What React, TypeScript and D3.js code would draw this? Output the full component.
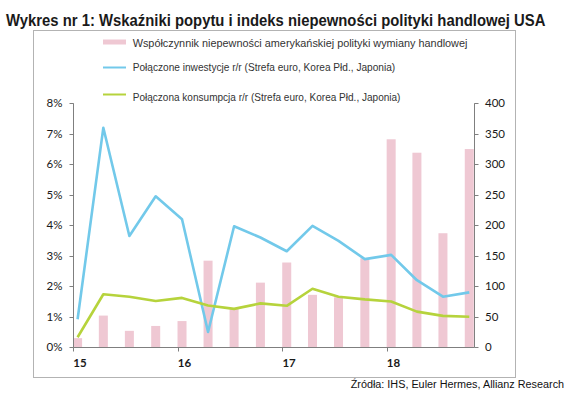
import React, { useLayoutEffect, useRef, useState } from "react";
import * as d3 from "d3";

// quarters 2015Q1 .. 2018Q4
const quarters = [
  "15Q1", "15Q2", "15Q3", "15Q4",
  "16Q1", "16Q2", "16Q3", "16Q4",
  "17Q1", "17Q2", "17Q3", "17Q4",
  "18Q1", "18Q2", "18Q3", "18Q4",
];

// US trade policy uncertainty index (right axis)
const uncertainty = [15, 52, 27, 35, 43, 142, 63, 106, 139, 86, 82, 146, 341, 319, 187, 325];
// combined investment y/y, % (left axis)
const investment = [0.92, 7.2, 3.65, 4.95, 4.2, 0.5, 3.97, 3.6, 3.15, 3.98, 3.49, 2.89, 3.03, 2.2, 1.66, 1.8];
// combined consumption y/y, %
const consumption = [0.33, 1.74, 1.66, 1.52, 1.62, 1.37, 1.26, 1.44, 1.36, 1.92, 1.66, 1.57, 1.5, 1.17, 1.03, 1.0];

const yearTicks = ["15", "16", "17", "18"];
const leftTicks = [0, 0.01, 0.02, 0.03, 0.04, 0.05, 0.06, 0.07, 0.08];
const rightTicks = [0, 50, 100, 150, 200, 250, 300, 350, 400];

const legendLabels = [
  "Współczynnik niepewności amerykańskiej polityki wymiany handlowej",
  "Połączone inwestycje r/r (Strefa euro, Korea Płd., Japonia)",
  "Połączona konsumpcja r/r (Strefa euro, Korea Płd., Japonia)",
];

const PINK = "#efc8d3";
const BLUE = "#72c9ea";
const GREEN = "#b6d33c";

const qDate = (q: string) => new Date(2000 + +q.slice(0, 2), (+q.slice(3) - 1) * 3, 16);

// text squeezed horizontally to a given width (the original uses a narrower face)
function FitText(props: {
  x: number;
  y: number;
  width: number;
  size: number;
  weight?: string;
  fill: string;
  children: string;
}) {
  const ref = useRef<SVGTextElement>(null);
  const [sx, setSx] = useState(1);
  useLayoutEffect(() => {
    if (!ref.current) return;
    const w = ref.current.getComputedTextLength();
    if (w > 0) setSx(props.width / w);
  }, [props.width, props.children]);
  return (
    <text
      ref={ref}
      transform={`translate(${props.x},${props.y}) scale(${sx},1)`}
      fontFamily="Arial, 'Liberation Sans', sans-serif"
      fontSize={props.size}
      fontWeight={props.weight}
      fill={props.fill}
    >
      {props.children}
    </text>
  );
}

export default function App() {
  const W = 570;
  const H = 395;
  const plotTop = 103.3;
  const plotBottom = 347.3;
  const axisRight = 474;

  const x = d3
    .scaleTime()
    .domain([new Date(2015, 0, 1), new Date(2019, 0, 1)])
    .range([73.3, 491.3]);
  const yL = d3.scaleLinear().domain([0, 0.08]).range([plotBottom, plotTop]);
  const yR = d3.scaleLinear().domain([0, 400]).range([plotBottom, plotTop]);

  const dates = quarters.map(qDate);
  const lineL = d3
    .line<number>()
    .x((_, i) => x(dates[i]))
    .y((d) => yL(d / 100));

  const x0 = Math.round(x(new Date(2015, 0, 1))) + 0.5;
  const xr = Math.round(axisRight) + 0.5;
  const yb = Math.round(plotBottom) + 0.5;
  const barW = 9;
  const axisColor = "#7f7f7f";

  return (
    <div style={{ position: "fixed", left: 0, top: 0 }}>
      <svg width={W} height={H} style={{ display: "block", background: "#fff" }}>
        <FitText x={6} y={26} width={540} size={16.5} weight="bold" fill="#1a1a1a">
          Wykres nr 1: Wskaźniki popytu i indeks niepewności polityki handlowej USA
        </FitText>

        <rect x={33.5} y={30.5} width={482} height={347} fill="none" stroke="#b3b3b3" />

        {/* legend */}
        <rect x={103} y={39.5} width={23} height={5} fill={PINK} />
        <line x1={103} x2={126} y1={67.5} y2={67.5} stroke={BLUE} strokeWidth={2} />
        <line x1={103} x2={126} y1={94.5} y2={94.5} stroke={GREEN} strokeWidth={2} />
        <FitText x={132.7} y={47} width={335} size={10.5} fill="#333">
          {legendLabels[0]}
        </FitText>
        <FitText x={132.7} y={70.5} width={263} size={10.5} fill="#333">
          {legendLabels[1]}
        </FitText>
        <FitText x={132.7} y={100.5} width={268} size={10.5} fill="#333">
          {legendLabels[2]}
        </FitText>

        {/* bars */}
        {uncertainty.map((v, i) => (
          <rect
            key={i}
            x={x(dates[i]) - barW / 2}
            y={yR(v)}
            width={barW}
            height={yR(0) - yR(v)}
            fill={PINK}
          />
        ))}

        {/* axes */}
        <g stroke={axisColor} strokeWidth={1}>
          <line x1={x0} x2={x0} y1={plotTop} y2={yb} />
          <line x1={xr} x2={xr} y1={plotTop} y2={yb} />
          <line x1={x0} x2={xr} y1={yb} y2={yb} />
          {leftTicks.map((t) => (
            <line key={t} x1={x0 - 4} x2={x0} y1={Math.round(yL(t)) + 0.5} y2={Math.round(yL(t)) + 0.5} />
          ))}
          {rightTicks.map((t) => (
            <line key={t} x1={xr} x2={xr + 4} y1={Math.round(yR(t)) + 0.5} y2={Math.round(yR(t)) + 0.5} />
          ))}
          {yearTicks.map((t) => {
            const xx = Math.round(x(new Date(2000 + +t, 0, 1))) + 0.5;
            return <line key={t} x1={xx} x2={xx} y1={yb} y2={yb + 4} />;
          })}
        </g>

        <g fontFamily="Lato, 'Open Sans', sans-serif" fontSize={11.5} fill="#1a1a1a">
          {leftTicks.map((t) => (
            <text key={t} x={62.5} y={yL(t)} dy="0.35em" textAnchor="end">
              {d3.format(".0%")(t)}
            </text>
          ))}
          {rightTicks.map((t) => (
            <text key={t} x={485} y={yR(t)} dy="0.35em">
              {t}
            </text>
          ))}
          {yearTicks.map((t) => (
            <text key={t} x={x(new Date(2000 + +t, 0, 1))} y={367.3} fontWeight="bold">
              {t}
            </text>
          ))}
        </g>

        {/* lines */}
        <path d={lineL(investment) ?? ""} fill="none" stroke={BLUE} strokeWidth={2.6} strokeLinejoin="round" />
        <path d={lineL(consumption) ?? ""} fill="none" stroke={GREEN} strokeWidth={2.6} strokeLinejoin="round" />

        <FitText x={350.7} y={388} width={213.6} size={11.5} fill="#111">
          Źródła: IHS, Euler Hermes, Allianz Research
        </FitText>
      </svg>
    </div>
  );
}
